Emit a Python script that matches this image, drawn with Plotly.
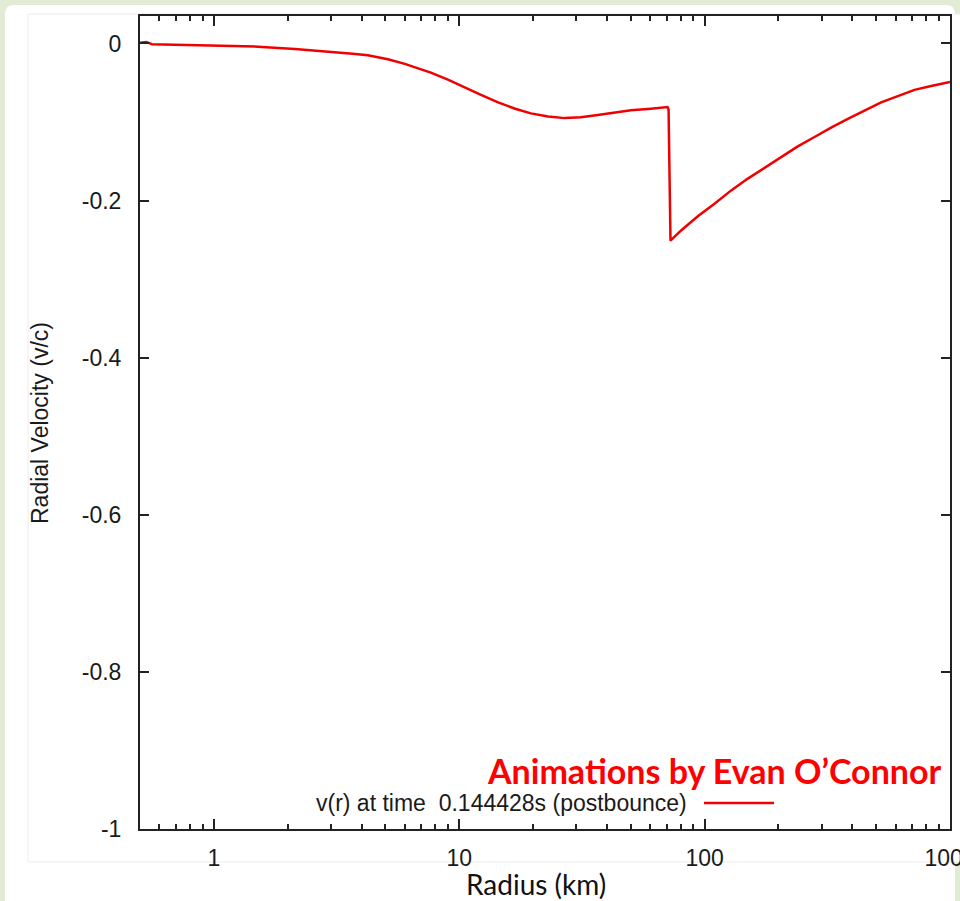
import plotly.graph_objects as go

# Data
radius_km = [0.5, 0.53, 0.56, 1.0, 1.51, 2.14, 2.65, 3.11, 3.68, 4.24, 5.12, 6.0,
             7.66, 8.99, 10.5, 12.2, 14.4, 16.9, 19.6, 23.0, 26.9, 31.3, 36.7,
             43.1, 50.1, 60.4, 69.5, 70.6, 71.3, 72.6, 80.2, 93.8, 109.7, 128.3,
             150.0, 175.4, 205.0, 239.7, 280.4, 327.6, 383.4, 448.4, 524.0, 612.8,
             716.6, 837.6, 1000.0]
velocity = [0.001, 0.002, -0.001, -0.003, -0.004, -0.007, -0.009, -0.011, -0.013,
            -0.015, -0.020, -0.026, -0.037, -0.046, -0.056, -0.065, -0.075, -0.083,
            -0.089, -0.093, -0.095, -0.094, -0.091, -0.088, -0.085, -0.083, -0.081,
            -0.081, -0.084, -0.251, -0.238, -0.220, -0.204, -0.187, -0.172, -0.158,
            -0.145, -0.131, -0.119, -0.107, -0.096, -0.085, -0.075, -0.067, -0.059,
            -0.054, -0.049]

x_major_ticks = [1, 10, 100, 1000]
x_major_labels = ["1", "10", "100", "1000"]
x_minor_ticks = [0.6, 0.7, 0.8, 0.9, 2, 3, 4, 5, 6, 7, 8, 9,
                 20, 30, 40, 50, 60, 70, 80, 90, 200, 300, 400, 500, 600, 700, 800, 900]
y_ticks = [0, -0.2, -0.4, -0.6, -0.8, -1]
y_labels = ["0", "-0.2", "-0.4", "-0.6", "-0.8", "-1"]

legend_text = "v(r) at time  0.144428s (postbounce)"
credit_text = "Animations by Evan O\u2019Connor"
x_title = "Radius (km)"
y_title = "Radial Velocity (v/c)"

W, H = 960, 901
L, R, T, B = 140, 10, 16, 72
PW, PH = W - L - R, H - T - B


def px(x):
    return (x - L) / PW


def py(y):
    return (H - B - y) / PH


AX = "#222222"
TXT = "#1a1a1a"
FONT = "Liberation Sans, Arial, Helvetica, sans-serif"

fig = go.Figure()
fig.add_trace(go.Scatter(x=radius_km, y=velocity, mode="lines",
                         line=dict(color="#f00000", width=2.5),
                         showlegend=False, hoverinfo="skip"))

shapes = []
# white slide panel with rounded top corners
x0, x1, y0, y1 = px(5), px(955), py(5), py(915)
rx, ry = 9 / PW, 9 / PH
shapes.append(dict(type="path", xref="paper", yref="paper", layer="below",
                   path=(f"M {x0},{y1} L {x0},{y0-ry} Q {x0},{y0} {x0+rx},{y0} "
                         f"L {x1-rx},{y0} Q {x1},{y0} {x1},{y0-ry} L {x1},{y1} Z"),
                   fillcolor="white", line=dict(width=0)))
# pasted plot image area
shapes.append(dict(type="rect", xref="paper", yref="paper", layer="below",
                   x0=px(28), x1=px(975), y0=py(862), y1=py(14),
                   fillcolor="white", line=dict(color="#ececec", width=1)))
# legend sample line
shapes.append(dict(type="line", xref="paper", yref="paper",
                   x0=px(704), x1=px(774), y0=py(803), y1=py(803),
                   line=dict(color="#f00000", width=2.5)))

annotations = [
    dict(text=legend_text, xref="paper", yref="paper", x=px(689), y=py(803),
         xanchor="right", yanchor="middle", showarrow=False,
         font=dict(family=FONT, size=23, color=TXT)),
    dict(text=credit_text, xref="paper", yref="paper", x=px(944), y=py(770),
         xanchor="right", yanchor="middle", showarrow=False,
         font=dict(family="Lato, Open Sans, sans-serif", size=34, color="#ff0000",
                   weight="bold")),
    dict(text=x_title, xref="paper", yref="paper", x=px(536), y=py(884),
         xanchor="center", yanchor="middle", showarrow=False,
         font=dict(family="Lato, Open Sans, sans-serif", size=28, color="#111111")),
    dict(text=y_title, xref="paper", yref="paper", x=px(40), y=py(423),
         xanchor="center", yanchor="middle", showarrow=False, textangle=-90,
         font=dict(family=FONT, size=23, color=TXT)),
]

fig.update_layout(
    width=W, height=H,
    margin=dict(l=L, r=R, t=T, b=B, pad=0, autoexpand=False),
    paper_bgcolor="#e2ebd4",
    plot_bgcolor="rgba(0,0,0,0)",
    shapes=shapes,
    annotations=annotations,
    xaxis=dict(type="log", range=[-0.30103, 3], tickvals=x_major_ticks,
               ticktext=x_major_labels, ticks="inside", ticklen=10, tickwidth=1.5,
               tickcolor=AX, showline=True, linecolor=AX, linewidth=2,
               mirror="ticks", showgrid=False, zeroline=False, automargin=False,
               ticklabelstandoff=7, ticklabeloverflow="allow",
               tickfont=dict(family=FONT, size=23, color=TXT),
               minor=dict(tickvals=x_minor_ticks, ticks="inside", ticklen=5,
                          tickwidth=1.5, tickcolor=AX, showgrid=False)),
    yaxis=dict(range=[-1, 0.035], tickvals=y_ticks, ticktext=y_labels,
               ticks="inside", ticklen=9, tickwidth=1.5, tickcolor=AX,
               showline=True, linecolor=AX, linewidth=2, mirror="ticks",
               showgrid=False, zeroline=False, automargin=False,
               ticklabelstandoff=12,
               tickfont=dict(family=FONT, size=23, color=TXT)),
)

fig.write_html("out.html",
               config={"displayModeBar": False},
               post_script="document.body.style.margin='0';"
                           "document.body.style.overflow='hidden';")
